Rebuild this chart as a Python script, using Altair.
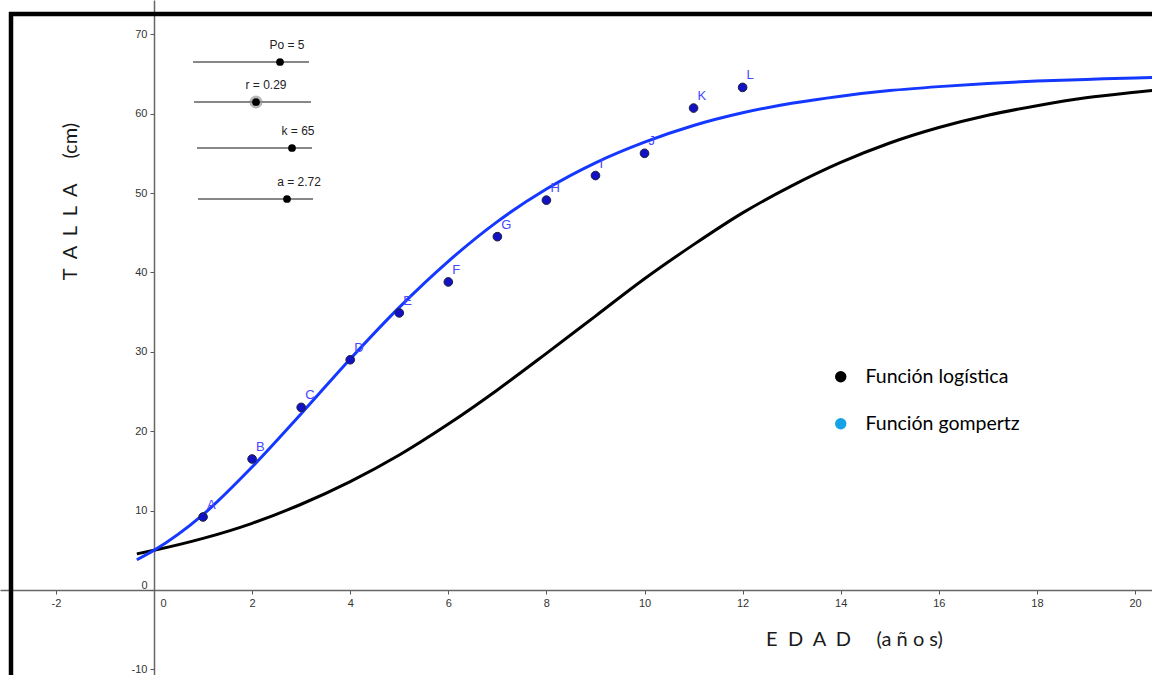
import altair as alt
import pandas as pd

# ---------------- data ----------------
ages = [1, 2, 3, 4, 5, 6, 7, 8, 9, 10, 11, 12]
heights = [9.2, 16.5, 23.0, 29.0, 34.9, 38.8, 44.5, 49.1, 52.2, 55.0, 60.7, 63.3]
point_names = ["A", "B", "C", "D", "E", "F", "G", "H", "I", "J", "K", "L"]

curve_t = [-0.35, 0, 1, 2, 3, 4, 5, 6, 7, 8, 9, 10, 11, 12, 13, 14, 15, 16, 17, 18, 19, 20, 20.4]
gompertz = [3.8, 5.0, 9.5, 15.5, 22.2, 29.1, 35.6, 41.4, 46.4, 50.5, 53.8, 56.4, 58.5, 60.1,
            61.3, 62.2, 62.9, 63.4, 63.8, 64.1, 64.3, 64.5, 64.55]
logistica = [4.55, 5.0, 6.5, 8.4, 10.8, 13.65, 17.0, 20.9, 25.2, 29.8, 34.5, 39.2, 43.5, 47.5,
             50.9, 53.85, 56.3, 58.25, 59.8, 61.0, 62.0, 62.7, 62.95]

legend_names = ["Función logística", "Función gompertz"]
legend_colors = ["#000000", "#16a2e6"]

slider_labels = ["Po = 5", "r = 0.29", "k = 65", "a = 2.72"]

x_ticks = [-2, 0, 2, 4, 6, 8, 10, 12, 14, 16, 18, 20]
y_ticks = [-10, 0, 10, 20, 30, 40, 50, 60, 70]

# ---------------- layout (pixels) ----------------
W, H = 1152, 675
X_DOMAIN = [-3.14, 20.346]
Y_DOMAIN = [-10.705, 74.31]
X_AXIS_PX = 590
Y_AXIS_PX = 154

slider_layout = pd.DataFrame({
    "label": slider_labels,
    "tx": [287, 266, 298, 299],
    "ty": [45, 85, 131, 182],
    "x1": [193, 194, 197, 198],
    "x2": [309, 311, 312, 313],
    "ly": [62, 102, 148, 199],
    "dx": [280, 256, 292, 287],
    "sel": [0, 1, 0, 0],
})

xs = alt.Scale(domain=X_DOMAIN, nice=False, zero=False)
ys = alt.Scale(domain=Y_DOMAIN, nice=False, zero=False)

label_expr = "datum.value < 0 ? '-' + abs(datum.value) : '' + datum.value"

x_axis = alt.Axis(
    orient="bottom", offset=-(H - X_AXIS_PX), values=x_ticks, grid=False,
    domainColor="#666666", domainWidth=1.5, tickColor="#555555", tickSize=4, tickWidth=1,
    labelFont="Liberation Sans", labelFontSize=11, labelColor="#333333", labelPadding=3,
    labelExpr=label_expr,
    labelOffset={"condition": {"test": "datum.value == 0", "value": 9}, "value": 0},
    title="E\u00a0 D\u00a0 A\u00a0 D\u00a0\u00a0\u00a0\u00a0 (a\u00a0ñ\u00a0o\u00a0s)",
    titleFont="Lato", titleFontSize=20, titleFontWeight="normal", titleColor="#1a1a1a",
    titleX=854, titleY=49, titleAlign="center", titleBaseline="middle",
)
y_axis = alt.Axis(
    orient="left", offset=-Y_AXIS_PX, values=y_ticks, grid=False,
    domainColor="#666666", domainWidth=1.5, tickColor="#555555", tickSize=4, tickWidth=1,
    labelFont="Liberation Sans", labelFontSize=11, labelColor="#333333", labelPadding=3,
    labelExpr=label_expr,
    labelBaseline={"condition": {"test": "datum.value == 0", "value": "bottom"}, "value": "middle"},
    title="T\u00a0 A\u00a0 L\u00a0 L\u00a0 A\u00a0\u00a0\u00a0\u00a0 (cm)",
    titleFont="Lato", titleFontSize=20, titleFontWeight="normal", titleColor="#1a1a1a",
    titleX=70 - Y_AXIS_PX, titleY=201, titleAngle=270, titleAlign="center", titleBaseline="middle",
)


def xenc(field):
    return alt.X(field, type="quantitative", scale=xs, axis=x_axis)


def yenc(field):
    return alt.Y(field, type="quantitative", scale=ys, axis=y_axis)


curves = pd.DataFrame({"t": curve_t, "g": gompertz, "l": logistica})
pts = pd.DataFrame({"edad": ages, "talla": heights, "nombre": point_names})

logistic_line = alt.Chart(curves).mark_line(
    color="#000000", strokeWidth=3, interpolate="monotone", clip=True
).encode(x=xenc("t"), y=yenc("l"))

gompertz_line = alt.Chart(curves).mark_line(
    color="#1438ff", strokeWidth=3, interpolate="monotone", clip=True
).encode(x=xenc("t"), y=yenc("g"))

points = alt.Chart(pts).mark_circle(
    size=75, color="#1212c4", opacity=1, stroke="#20203a", strokeWidth=1
).encode(x=xenc("edad"), y=yenc("talla"))

point_labels = alt.Chart(pts).mark_text(
    align="left", baseline="middle", dx=4, dy=-12, font="Liberation Sans", fontSize=13, color="#4646ff"
).encode(x=xenc("edad"), y=yenc("talla"), text="nombre:N")

legend_layer = alt.Chart(pd.DataFrame({"serie": legend_names})).mark_circle(opacity=0).encode(
    color=alt.Color(
        "serie:N",
        scale=alt.Scale(domain=legend_names, range=legend_colors),
        legend=alt.Legend(
            orient="none", legendX=831, legendY=367, title=None, padding=0,
            symbolType="circle", symbolSize=130, symbolOpacity=1, symbolStrokeWidth=0,
            labelFont="Lato", labelFontSize=19.5, labelColor="#000000", labelOffset=15,
            rowPadding=26,
        ),
    )
)

# slider widgets
s_lines = alt.Chart(slider_layout).mark_rule(color="#111111", strokeWidth=1.2).encode(
    x=alt.X("x1:Q", scale=None, axis=None), x2="x2:Q", y=alt.Y("ly:Q", scale=None, axis=None)
)
s_halo = alt.Chart(slider_layout).transform_filter("datum.sel == 1").mark_circle(
    size=170, color="#888888", opacity=0.6
).encode(x=alt.X("dx:Q", scale=None, axis=None), y=alt.Y("ly:Q", scale=None, axis=None))
s_dots = alt.Chart(slider_layout).mark_circle(size=60, color="#000000", opacity=1).encode(
    x=alt.X("dx:Q", scale=None, axis=None), y=alt.Y("ly:Q", scale=None, axis=None)
)
s_text = alt.Chart(slider_layout).mark_text(
    align="center", baseline="middle", font="Liberation Sans", fontSize=12, color="#222222"
).encode(x=alt.X("tx:Q", scale=None, axis=None), y=alt.Y("ty:Q", scale=None, axis=None), text="label:N")

# frame (screen border of the original window)
border_top = alt.Chart(pd.DataFrame({"a": [0]})).mark_rule(color="black", strokeWidth=4.5).encode(
    x=alt.value(9), x2=alt.value(W), y=alt.value(14)
)
border_left = alt.Chart(pd.DataFrame({"a": [0]})).mark_rule(color="black", strokeWidth=4.5).encode(
    x=alt.value(11), y=alt.value(12), y2=alt.value(H)
)

chart = alt.layer(
    logistic_line, gompertz_line, points, point_labels, legend_layer,
    s_lines, s_halo, s_dots, s_text, border_top, border_left,
).properties(
    width=W, height=H, padding=0, autosize=alt.AutoSizeParams(type="none"), background="white"
).configure_view(stroke=None)

chart.save("out.html", embed_options={"renderer": "svg", "actions": False})
